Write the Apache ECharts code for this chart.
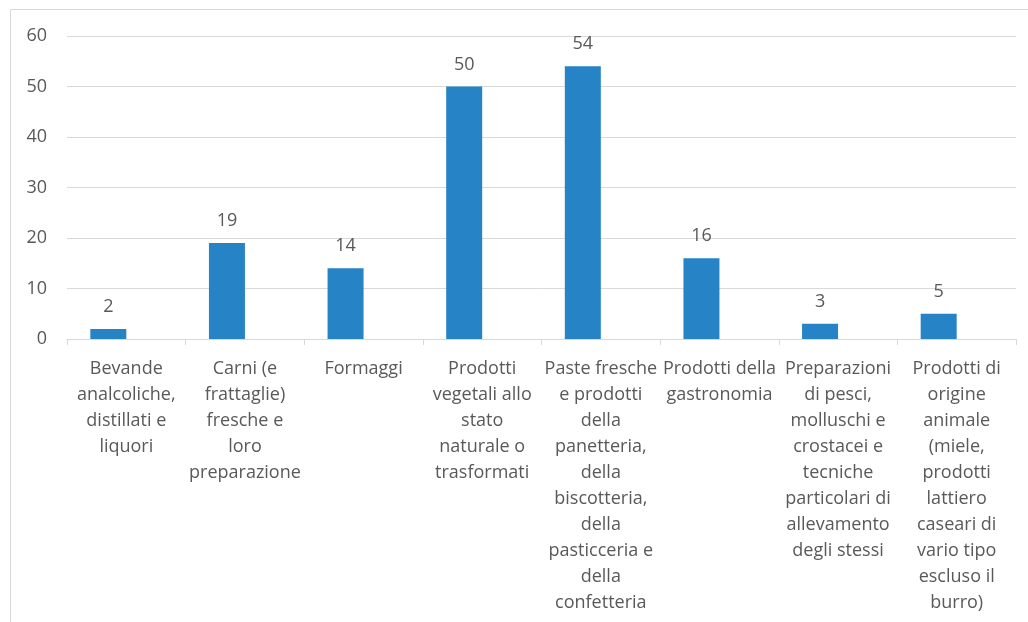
<!DOCTYPE html>
<html>
<head>
<meta charset="utf-8">
<script src="https://cdn.jsdelivr.net/npm/echarts@6/dist/echarts.min.js"></script>
<style>
html,body{margin:0;padding:0;background:#fff;}
#chart{width:1028px;height:622px;}
</style>
</head>
<body>
<div id="chart"></div>
<script>
const categories = [
  "Bevande\nanalcoliche,\ndistillati e\nliquori",
  "Carni (e\nfrattaglie)\nfresche e\nloro\npreparazione",
  "Formaggi",
  "Prodotti\nvegetali allo\nstato\nnaturale o\ntrasformati",
  "Paste fresche\ne prodotti\ndella\npanetteria,\ndella\nbiscotteria,\ndella\npasticceria e\ndella\nconfetteria",
  "Prodotti della\ngastronomia",
  "Preparazioni\ndi pesci,\nmolluschi e\ncrostacei e\ntecniche\nparticolari di\nallevamento\ndegli stessi",
  "Prodotti di\norigine\nanimale\n(miele,\nprodotti\nlattiero\ncaseari di\nvario tipo\nescluso il\nburro)"
];
const values = [2, 19, 14, 50, 54, 16, 3, 5];
const emptySeries = [null, null, null, null, null, null, null, null];
const yTicks = { min: 0, max: 60, interval: 10 };

const chart = echarts.init(document.getElementById('chart'), null, { renderer: 'canvas' });
const textColor = '#595959';
const font = '"Open Sans", sans-serif';
chart.setOption({
  animation: false,
  backgroundColor: '#ffffff',
  graphic: [{
    type: 'rect',
    shape: { x: 10.5, y: 9.5, width: 1100, height: 700 },
    style: { fill: 'none', stroke: '#d9d9d9', lineWidth: 1 },
    silent: true
  }],
  grid: { left: 67, right: 12, top: 36, bottom: 283, containLabel: false },
  xAxis: {
    type: 'category',
    data: categories,
    axisLine: { show: true, lineStyle: { color: '#d9d9d9', width: 1 } },
    axisTick: { show: true, length: 6, lineStyle: { color: '#d9d9d9' } },
    axisLabel: {
      interval: 0,
      color: textColor,
      fontFamily: font,
      fontSize: 18,
      lineHeight: 26,
      margin: 17,
      align: 'center'
    }
  },
  yAxis: {
    type: 'value',
    min: yTicks.min,
    max: yTicks.max,
    interval: yTicks.interval,
    axisLine: { show: false },
    axisTick: { show: false },
    splitLine: { lineStyle: { color: '#d9d9d9', width: 1 } },
    axisLabel: { color: textColor, fontFamily: font, fontSize: 18, margin: 20 }
  },
  series: [{
    type: 'bar',
    data: values,
    barWidth: 36,
    barGap: '0%',
    itemStyle: { color: '#2683C6' },
    label: {
      show: true,
      position: 'top',
      distance: 13,
      color: textColor,
      fontFamily: font,
      fontSize: 18
    }
  }, {
    type: 'bar',
    data: emptySeries,
    barWidth: 36,
    barGap: '0%',
    itemStyle: { color: '#2683C6' }
  }]
});
</script>
</body>
</html>
